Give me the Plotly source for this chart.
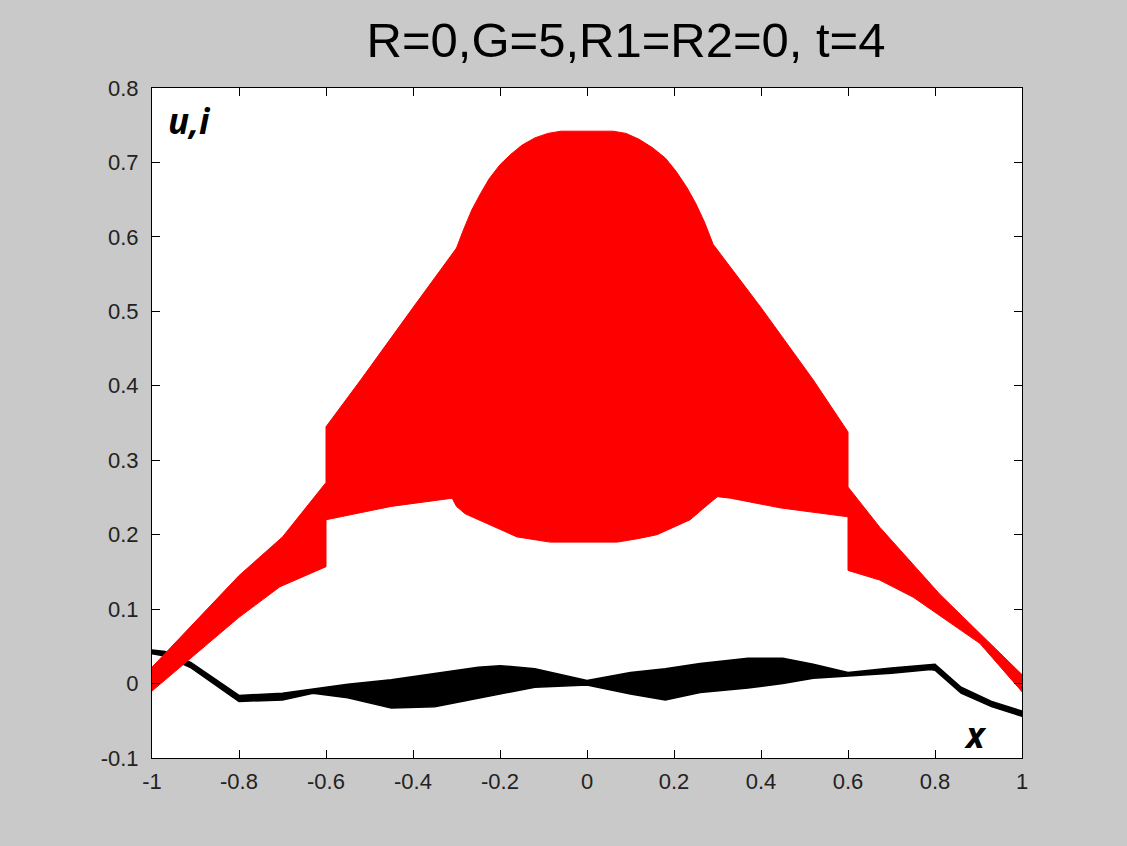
import plotly.graph_objects as go

# ---- tick values / labels ----
x_ticks = [-1, -0.8, -0.6, -0.4, -0.2, 0, 0.2, 0.4, 0.6, 0.8, 1]
x_tick_labels = ["-1", "-0.8", "-0.6", "-0.4", "-0.2", "0", "0.2", "0.4", "0.6", "0.8", "1"]
y_ticks = [-0.1, 0, 0.1, 0.2, 0.3, 0.4, 0.5, 0.6, 0.7, 0.8]
y_tick_labels = ["-0.1", "0", "0.1", "0.2", "0.3", "0.4", "0.5", "0.6", "0.7", "0.8"]

# ---- red band (u): upper envelope ----
red_upper_x = [-1.0, -0.8, -0.7, -0.6, -0.6, -0.52, -0.4, -0.3, -0.285, -0.265, -0.245,
               -0.225, -0.2, -0.175, -0.15, -0.12, -0.09, -0.06, 0.06, 0.09, 0.12, 0.15,
               0.18, 0.205, 0.23, 0.25, 0.27, 0.29, 0.4, 0.52, 0.6, 0.6, 0.673, 0.811, 1.0]
red_upper_y = [0.022, 0.145, 0.197, 0.27, 0.345, 0.408, 0.505, 0.585, 0.608, 0.636, 0.658,
               0.678, 0.697, 0.711, 0.723, 0.733, 0.739, 0.742, 0.742, 0.739, 0.731, 0.72,
               0.706, 0.688, 0.666, 0.645, 0.62, 0.59, 0.505, 0.408, 0.338, 0.264, 0.21,
               0.12, 0.012]
# ---- red band (u): lower envelope ----
red_lower_x = [-1.0, -0.9, -0.8, -0.706, -0.6, -0.6, -0.45, -0.31, -0.3, -0.28, -0.223,
               -0.161, -0.085, 0.07, 0.12, 0.161, 0.237, 0.283, 0.3, 0.33, 0.444, 0.6,
               0.6, 0.673, 0.75, 0.903, 1.0]
red_lower_y = [-0.01, 0.04, 0.089, 0.13, 0.157, 0.22, 0.238, 0.249, 0.238, 0.228, 0.213,
               0.197, 0.19, 0.19, 0.195, 0.2, 0.22, 0.243, 0.251, 0.249, 0.236, 0.224,
               0.152, 0.139, 0.116, 0.054, -0.011]

# ---- black band (i) ----
black_x = [-1.0, -0.97, -0.91, -0.8, -0.7, -0.63, -0.55, -0.45, -0.35, -0.25, -0.2, -0.12,
           0.0, 0.1, 0.18, 0.26, 0.37, 0.45, 0.52, 0.6, 0.7, 0.79, 0.8, 0.86, 0.93, 1.0]
black_upper = [0.045, 0.043, 0.028, -0.016, -0.013, -0.007, -0.001, 0.005, 0.013, 0.022,
               0.024, 0.02, 0.004, 0.015, 0.02, 0.027, 0.034, 0.034, 0.026, 0.015, 0.021,
               0.026, 0.026, -0.005, -0.024, -0.037]
black_lower = [0.040, 0.037, 0.021, -0.024, -0.022, -0.013, -0.019, -0.033, -0.031, -0.019,
               -0.014, -0.005, -0.002, -0.014, -0.022, -0.012, -0.006, 0.0, 0.007, 0.010,
               0.014, 0.019, 0.018, -0.013, -0.031, -0.044]

title_text = "R=0,G=5,R1=R2=0, t=4"
sans = "Liberation Sans, Arial, sans-serif"

fig = go.Figure()

fig.add_trace(go.Scatter(
    x=black_x + black_x[::-1],
    y=black_upper + black_lower[::-1],
    mode="lines", fill="toself", fillcolor="black",
    line=dict(color="black", width=1.5), hoverinfo="skip", showlegend=False))

fig.add_trace(go.Scatter(
    x=red_upper_x + red_lower_x[::-1],
    y=red_upper_y + red_lower_y[::-1],
    mode="lines", fill="toself", fillcolor="#ff0000",
    line=dict(color="#ff0000", width=1), hoverinfo="skip", showlegend=False))

axis_common = dict(showgrid=False, zeroline=False, showline=True, linecolor="black",
                   linewidth=1, mirror="ticks", ticks="inside", ticklen=8, tickwidth=1,
                   tickcolor="black", tickfont=dict(family=sans, size=22, color="#222222"))

fig.update_xaxes(range=[-1, 1], tickmode="array", tickvals=x_ticks, ticktext=x_tick_labels,
                 ticklabelstandoff=4, **axis_common)
fig.update_yaxes(range=[-0.1, 0.8], tickmode="array", tickvals=y_ticks, ticktext=y_tick_labels,
                 ticklabelstandoff=8, **axis_common)

fig.add_annotation(x=-0.968, y=0.757, xref="x", yref="y", text="<b><i>u,i</i></b>",
                   showarrow=False, xanchor="left", yanchor="middle",
                   font=dict(family="Open Sans", size=35, color="black"))
fig.add_annotation(x=0.894, y=-0.069, xref="x", yref="y", text="<b><i>x</i></b>",
                   showarrow=False, xanchor="center", yanchor="middle",
                   font=dict(family="Open Sans", size=35, color="black"))

fig.update_layout(
    width=1127, height=846,
    margin=dict(l=152, r=105, t=88, b=88),
    paper_bgcolor="#c9c9c9", plot_bgcolor="white",
    title=dict(text=title_text, x=626 / 1127, xanchor="center", xref="container",
               y=1 - 40 / 846, yanchor="middle", yref="container",
               font=dict(family=sans, size=49, color="black")),
)

fig.write_html("out.html")
